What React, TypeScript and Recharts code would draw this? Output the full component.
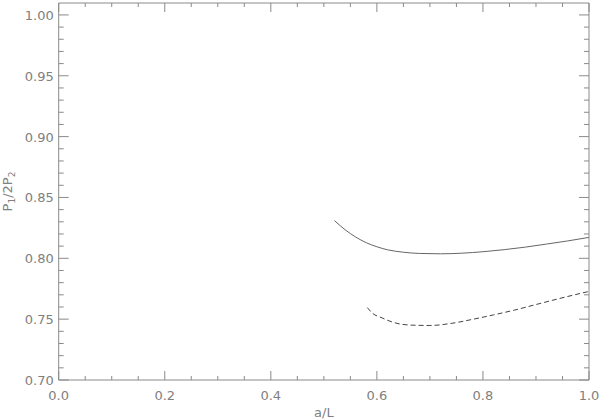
import { Label, Line, LineChart, XAxis, YAxis } from "recharts";

// solid curve
const solidX = [0.52, 0.54, 0.56, 0.58, 0.6, 0.62, 0.65, 0.68, 0.72, 0.76, 0.8, 0.84, 0.88, 0.92, 0.96, 1.0];
const solidY = [0.831, 0.8235, 0.8175, 0.8128, 0.8095, 0.807, 0.805, 0.804, 0.8037, 0.8042, 0.8054, 0.8071, 0.8092, 0.8117, 0.8143, 0.8172];

// dashed curve
const dashedX = [0.582, 0.59, 0.61, 0.63, 0.66, 0.7, 0.74, 0.78, 0.82, 0.86, 0.9, 0.94, 1.0];
const dashedY = [0.7595, 0.7555, 0.751, 0.7475, 0.7452, 0.7448, 0.7465, 0.7498, 0.7535, 0.7575, 0.762, 0.7665, 0.7728];

const xMajor = [0.0, 0.2, 0.4, 0.6, 0.8, 1.0];
const xLabels = ["0.0", "0.2", "0.4", "0.6", "0.8", "1.0"];
const yMajor = [0.7, 0.75, 0.8, 0.85, 0.9, 0.95, 1.0];
const yLabels = ["0.70", "0.75", "0.80", "0.85", "0.90", "0.95", "1.00"];

const solidData = solidX.map((x, i) => ({ x, y: solidY[i] }));
const dashedData = dashedX.map((x, i) => ({ x, y: dashedY[i] }));

// minor tick positions
const xTicks: number[] = [];
for (let i = 0; i <= 20; i++) xTicks.push(Math.round(i * 5) / 100);
const yTicks: number[] = [];
for (let i = 70; i <= 100; i++) yTicks.push(i / 100);

const AXIS = "#8a8a8a";
const TEXT = "#808080";
const FONT = "DejaVu Sans, sans-serif";
const Y_DOMAIN = [0.7, 1.0098];

const majorIndex = (v: number, majors: number[]) =>
  majors.findIndex((m) => Math.abs(m - v) < 1e-6);

const BottomTick = (props: any) => {
  const { x, y, payload } = props;
  const i = majorIndex(payload.value, xMajor);
  const len = i >= 0 ? 9 : 4;
  return (
    <g>
      <line x1={x} x2={x} y1={y} y2={y - len} stroke={AXIS} />
      {i >= 0 && (
        <text x={x} y={y + 20} textAnchor="middle" fill={TEXT} fontSize={13} fontFamily={FONT}>
          {xLabels[i]}
        </text>
      )}
    </g>
  );
};

const TopTick = (props: any) => {
  const { x, y, payload } = props;
  const len = majorIndex(payload.value, xMajor) >= 0 ? 9 : 4;
  return <line x1={x} x2={x} y1={y} y2={y + len} stroke={AXIS} />;
};

const LeftTick = (props: any) => {
  const { x, y, payload } = props;
  const i = majorIndex(payload.value, yMajor);
  const len = i >= 0 ? 10 : 5;
  return (
    <g>
      <line x1={x} x2={x + len} y1={y} y2={y} stroke={AXIS} />
      {i >= 0 && (
        <text x={x - 5} y={y + 5} textAnchor="end" fill={TEXT} fontSize={13} fontFamily={FONT}>
          {yLabels[i]}
        </text>
      )}
    </g>
  );
};

const RightTick = (props: any) => {
  const { x, y, payload } = props;
  const len = majorIndex(payload.value, yMajor) >= 0 ? 10 : 5;
  return <line x1={x} x2={x - len} y1={y} y2={y} stroke={AXIS} />;
};

const YTitle = (props: any) => {
  const { viewBox } = props;
  const cy = viewBox.y + viewBox.height / 2;
  return (
    <text
      x={12}
      y={cy}
      transform={`rotate(-90, 12, ${cy})`}
      textAnchor="middle"
      fill={TEXT}
      fontSize={13}
      fontFamily={FONT}
    >
      P<tspan fontSize={9} dy={3}>1</tspan>
      <tspan dy={-3}>/2P</tspan>
      <tspan fontSize={9} dy={3}>2</tspan>
    </text>
  );
};

export default function App() {
  return (
    <div style={{ position: "absolute", left: 0, top: 0, width: 600, height: 420, background: "#fff" }}>
      <LineChart width={600} height={420} margin={{ top: 2, right: 10, bottom: 0, left: 0 }}>
        <XAxis
          xAxisId="b"
          type="number"
          dataKey="x"
          domain={[0, 1]}
          ticks={xTicks}
          interval={0}
          height={40}
          tickSize={0}
          tickMargin={0}
          tick={<BottomTick />}
          tickLine={false}
          axisLine={{ stroke: AXIS }}
        >
          <Label value="a/L" position="insideBottom" offset={3} fill={TEXT} fontSize={13} fontFamily={FONT} />
        </XAxis>
        <XAxis
          xAxisId="t"
          orientation="top"
          type="number"
          dataKey="x"
          domain={[0, 1]}
          ticks={xTicks}
          interval={0}
          height={1}
          tickSize={0}
          tickMargin={0}
          tick={<TopTick />}
          tickLine={false}
          axisLine={{ stroke: AXIS }}
        />
        <YAxis
          yAxisId="l"
          type="number"
          domain={Y_DOMAIN}
          ticks={yTicks}
          interval={0}
          width={58.7}
          tickSize={0}
          tickMargin={0}
          tick={<LeftTick />}
          tickLine={false}
          axisLine={{ stroke: AXIS }}
        >
          <Label content={<YTitle />} />
        </YAxis>
        <YAxis
          yAxisId="r"
          orientation="right"
          type="number"
          domain={Y_DOMAIN}
          ticks={yTicks}
          interval={0}
          width={1}
          tickSize={0}
          tickMargin={0}
          tick={<RightTick />}
          tickLine={false}
          axisLine={{ stroke: AXIS }}
        />
        <Line
          data={solidData}
          xAxisId="b"
          yAxisId="l"
          dataKey="y"
          type="monotone"
          stroke="#666"
          strokeWidth={1}
          dot={false}
          isAnimationActive={false}
        />
        <Line
          data={dashedData}
          xAxisId="t"
          yAxisId="r"
          dataKey="y"
          type="monotone"
          stroke="#444"
          strokeWidth={1}
          strokeDasharray="5 3"
          dot={false}
          isAnimationActive={false}
        />
      </LineChart>
    </div>
  );
}
